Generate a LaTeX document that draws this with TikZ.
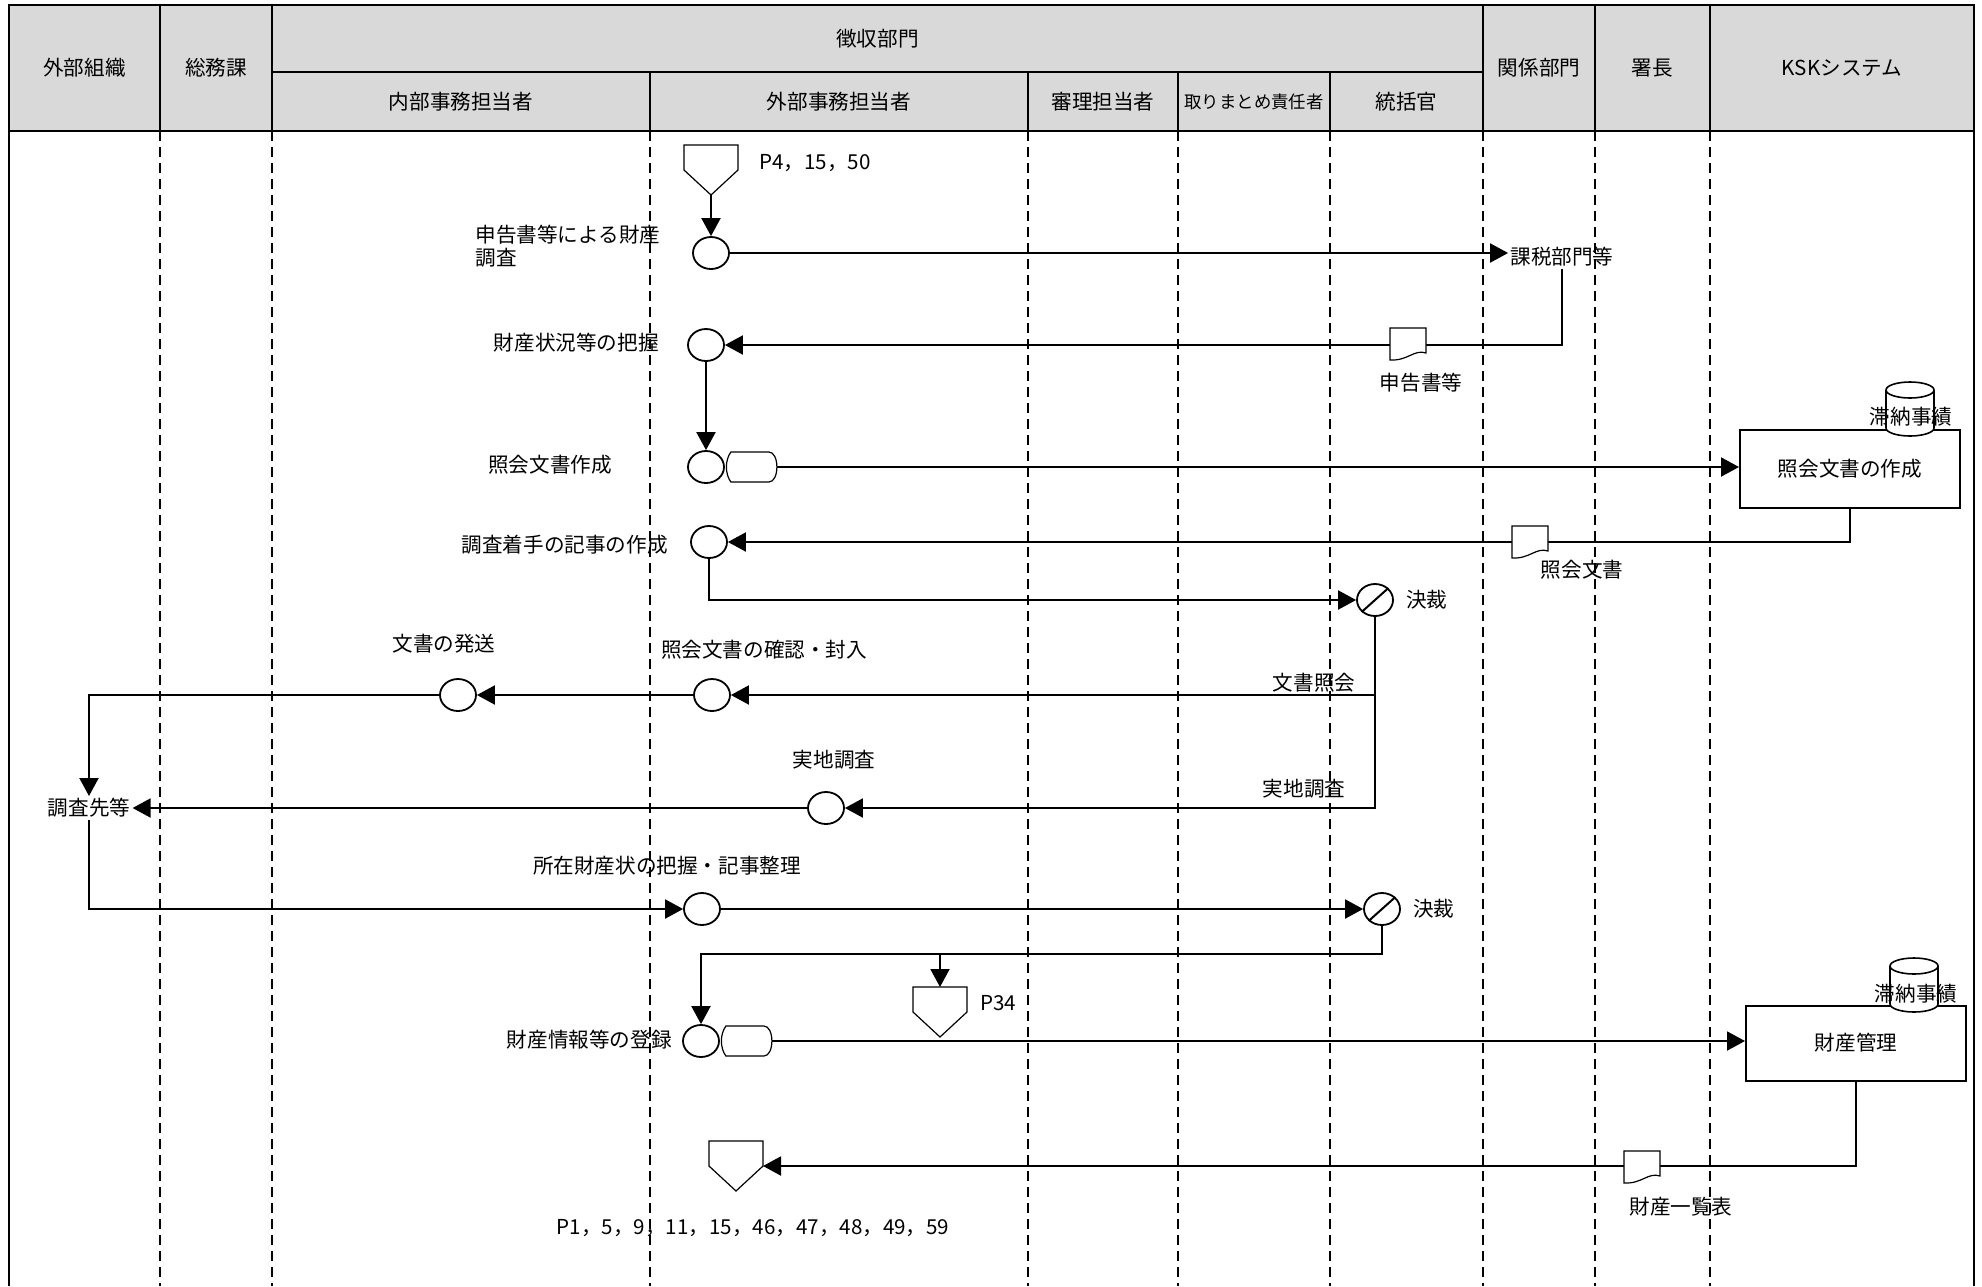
\documentclass[tikz,border=0pt]{standalone}
\usepackage{fontspec}
\setmainfont{Noto Sans CJK JP}
\usetikzlibrary{positioning,calc,shapes.geometric,arrows.meta}

\definecolor{hdrgray}{RGB}{217,217,217}

\tikzset{
  hdr/.style={draw, line width=1pt, fill=hdrgray},
  lane/.style={line width=0.9pt, dash pattern=on 5pt off 3pt},
  txt/.style={inner sep=1pt, font=\fontsize{10.3}{11.5}\selectfont},
  proc/.style={ellipse, draw, line width=0.9pt, fill=white,
               minimum width=18pt, minimum height=16pt, inner sep=0pt},
  sysbox/.style={draw, line width=1pt, fill=white, txt,
                 minimum width=110pt, minimum height=39pt},
  flow/.style={line width=1pt},
  arr/.style={flow, -{Triangle[length=9pt,width=9.5pt]}},
  thinline/.style={line width=0.6pt},
  offpage/.pic={
    \draw[thinline, fill=white] (-27,-25) -- (27,-25) -- (27,0) -- (0,25)
      -- (-27,0) -- cycle;
    \coordinate (-top) at (0,-25);
    \coordinate (-tip) at (0,25);
    \coordinate (-e) at (27,0);
  },
  dispsym/.pic={
    \draw[thinline, fill=white] (6,-15) -- (44,-15)
      .. controls (49,-15) and (52,-8) .. (52,0)
      .. controls (52,8) and (49,15) .. (44,15) -- (6,15)
      .. controls (0,7) and (0,-7) .. (6,-15) -- cycle;
    \coordinate (-r) at (52,0);
  },
  docsym/.pic={
    \draw[thinline, fill=white] (-18,-16) -- (18,-16) -- (18,9)
      .. controls (6,5) and (0,17) .. (-18,16) -- cycle;
    \coordinate (-c) at (0,0);
  },
  cylsym/.pic={
    \draw[line width=0.8pt, fill=white] (-24,19)
      arc[start angle=180, end angle=360, x radius=12pt, y radius=4pt]
      -- (24,-19)
      arc[start angle=0, end angle=180, x radius=12pt, y radius=4pt]
      -- cycle;
    \draw[line width=0.8pt] (-24,-19)
      arc[start angle=180, end angle=360, x radius=12pt, y radius=4pt];
    \coordinate (-c) at (0,0);
  }
}

\begin{document}
\begin{tikzpicture}[x=0.5pt, y=-0.5pt]
  \useasboundingbox (0,0) rectangle (1982,1286);

  % header cells
  \foreach \xa/\ya/\xb/\yb/\nm/\txt in {
      9/5/160/131/hgaibu/外部組織,
      160/5/272/131/hsomu/総務課,
      272/5/1483/72/hchoshu/徴収部門,
      272/72/650/131/hnaibu/内部事務担当者,
      650/72/1028/131/hgaimu/外部事務担当者,
      1028/72/1178/131/hshinri/審理担当者,
      1178/72/1330/131/hmatome/{\fontsize{8.7}{10}\selectfont 取りまとめ責任者},
      1330/72/1483/131/htokatsu/統括官,
      1483/5/1595/131/hkankei/関係部門,
      1595/5/1710/131/hshocho/署長,
      1710/5/1974/131/hksk/KSKシステム}
  {
    \draw[hdr] (\xa,\ya) rectangle (\xb,\yb);
    \node[txt] (\nm) at ({(\xa+\xb)/2},{(\ya+\yb)/2}) {\txt};
  }

  % frame and swim lanes
  \draw[line width=1.4pt] (9,1286) -- (9,5) -- (1974,5) -- (1974,1286);
  \foreach \x in {160,272,650,1028,1178,1330,1483,1595,1710}
    \draw[lane] (\x,131) -- (\x,1286);

  % processes
  \node[proc] (c1) at (711,253) {};
  \node[proc] (c2) at (706,345) {};
  \node[proc] (c3) at (706,467) {};
  \node[proc] (c4) at (709,542) {};
  \node[proc] (k1) at (1375,600) {};
  \node[proc] (c5) at (712,695) {};
  \node[proc] (c6) at (458,695) {};
  \node[proc] (c7) at (826,808) {};
  \node[proc] (c8) at (702,909) {};
  \node[proc] (k2) at (1382,909) {};
  \node[proc] (c9) at (701,1041) {};
  \draw[flow] (k1.south west) -- (k1.north east);
  \draw[flow] (k2.south west) -- (k2.north east);

  % KSK boxes
  \node[sysbox] (kmk1) at (1850,469) {照会文書の作成};
  \node[sysbox, minimum height=37.5pt] (kanri) at (1856,1043) {財産管理};

  % labels
  \node[txt, anchor=west, align=left] (l1) at (473,246) {申告書等による財産\\調査};
  \node[txt, anchor=west] (pl1) at (757,163) {P4，15，50};
  \node[txt] (zeimu) at (1562,257) {課税部門等};
  \node[txt, anchor=east] (l2) at (661,343) {財産状況等の把握};
  \node[txt] (l3) at (550,465) {照会文書作成};
  \node[txt, anchor=east] (l4) at (670,545) {調査着手の記事の作成};
  \node[txt, right=5pt of k1] (kl1) {決裁};
  \node[txt] (l5a) at (444,644) {文書の発送};
  \node[txt] (l5b) at (764,650) {照会文書の確認・封入};
  \node[txt] (l5c) at (1314,683) {文書照会};
  \node[txt] (tsk) at (89,808) {調査先等};
  \node[txt] (l6a) at (834,760) {実地調査};
  \node[txt] (l6b) at (1304,789) {実地調査};
  \node[txt] (l7) at (667,866) {所在財産状の把握・記事整理};
  \node[txt, right=5pt of k2] (kl2) {決裁};
  \node[txt, anchor=east] (l8) at (674,1040) {財産情報等の登録};
  \node[txt] (pl3) at (753,1228) {P1，5，9，11，15，46，47，48，49，59};

  % connectors and page marks
  \pic (op1) at (711,170) {offpage};
  \pic (op2) at (940,1012) {offpage};
  \node[txt, anchor=west] (pl2) at (978,1003) {P34};
  \pic (op3) at (736,1166) {offpage};
  \pic (ds1) at (c3.east) {dispsym};
  \pic (ds2) at (c9.east) {dispsym};

  \draw[arr] (op1-tip) -- (c1.north);
  \draw[arr] (c1.east) -- (c1.east -| zeimu.west);
  \draw[arr] (zeimu.south) |- (c2.east);
  \draw[arr] (c2) -- (c3);
  \draw[arr] (ds1-r) -- (ds1-r -| kmk1.west);
  \draw[arr] (kmk1.south) |- (c4.east);
  \draw[arr] (c4.south) |- (k1.west);
  \draw[arr] (k1.south) |- (c7.east);
  \draw[arr] (k1.south |- c5.east) -- (c5.east);
  \draw[arr] (c5) -- (c6);
  \draw[arr] (c6.west) -| (tsk.north);
  \draw[arr] (c7) -- (tsk);
  \draw[arr] (tsk.south) |- (c8.west);
  \draw[arr] (c8) -- (k2);
  \coordinate (j2) at ($(k2.south)+(0,28)$);
  \draw[arr] (k2.south) -- (j2) -| (c9.north);
  \draw[arr] (op2-top |- j2) -- (op2-top);
  \draw[arr] (ds2-r) -- (ds2-r -| kanri.west);
  \draw[arr] (kanri.south) |- (op3-e);

  % documents and data stores
  \pic (d1) at (1408,344) {docsym};
  \node[txt] (dl1) at (1421,383) {申告書等};
  \pic (d2) at (1530,542) {docsym};
  \node[txt] (dl2) at (1582,570) {照会文書};
  \pic (d3) at (1642,1167) {docsym};
  \node[txt] (dl3) at (1681,1207) {財産一覧表};
  \pic (db1) at (1910,409) {cylsym};
  \node[txt] (dbl1) at ($(db1-c)+(1,8)$) {滞納事績};
  \pic (db2) at (1914,985) {cylsym};
  \node[txt] (dbl2) at ($(db2-c)+(2,9)$) {滞納事績};
\end{tikzpicture}
\end{document}
